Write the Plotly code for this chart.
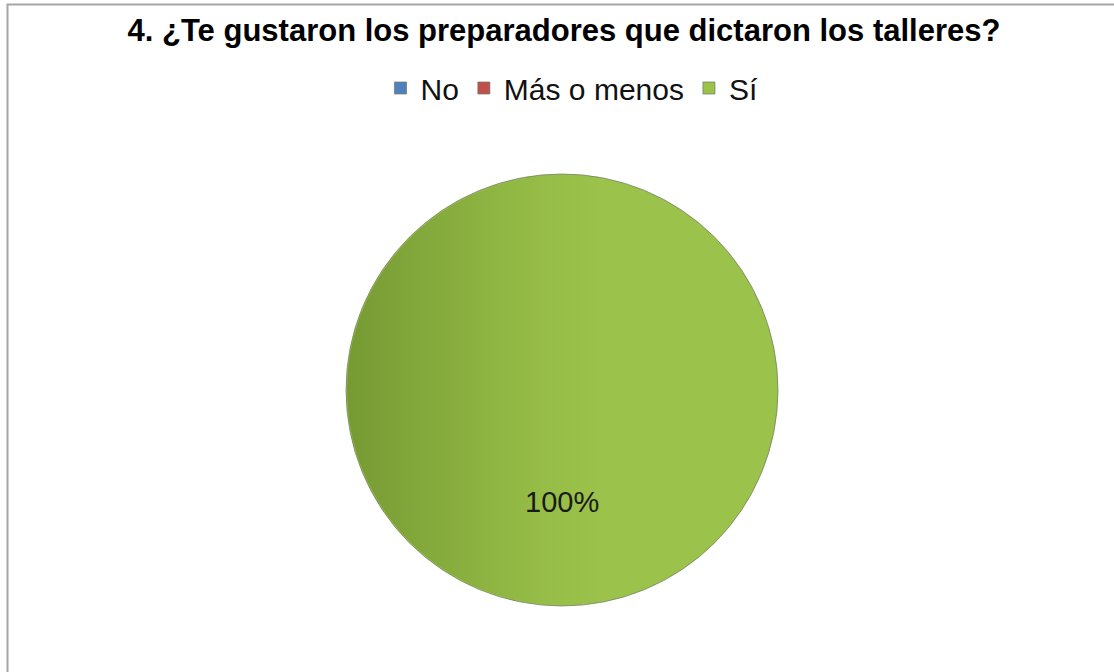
import base64
import plotly.graph_objects as go

# Data
labels = ["No", "Más o menos", "Sí"]
values = [0, 0, 100]
colors = ["#4F81BD", "#C0504D", "#9BC24A"]
title_text = "4. ¿Te gustaron los preparadores que dictaron los talleres?"

W, H = 1114, 672
dom_x = [346 / W, 778 / W]
dom_y = [1 - 606 / H, 1 - 174 / H]

fig = go.Figure()
fig.add_trace(go.Pie(
    labels=labels,
    values=values,
    marker=dict(colors=colors, line=dict(color="rgba(110,120,100,0.7)", width=1)),
    textinfo="none",
    sort=False,
    direction="clockwise",
    domain=dict(x=dom_x, y=dom_y),
    hoverinfo="label+percent",
))

# percentage label for the (only) non-zero slice, from the data
total = sum(values)
for lab, v in zip(labels, values):
    if v > 0:
        pct = f"{round(100 * v / total)}%"
        fig.add_annotation(
            text=pct, x=(dom_x[0] + dom_x[1]) / 2, y=1 - 502 / H,
            xref="paper", yref="paper", showarrow=False, yanchor="middle",
            font=dict(family="Liberation Sans, Arial", size=29, color="#1a1a1a"),
        )

# subtle horizontal shading like the original
svg = ("<svg xmlns='http://www.w3.org/2000/svg' width='200' height='200' viewBox='0 0 200 200'>"
       "<defs><linearGradient id='g' x1='0' x2='1' y1='0' y2='0'>"
       "<stop offset='0' stop-color='#4a6a18' stop-opacity='0.45'/>"
       "<stop offset='0.45' stop-color='#4a6a18' stop-opacity='0.06'/>"
       "<stop offset='0.6' stop-color='#4a6a18' stop-opacity='0'/>"
       "</linearGradient></defs>"
       "<circle cx='100' cy='100' r='99.5' fill='url(#g)'/></svg>")
src = "data:image/svg+xml;base64," + base64.b64encode(svg.encode()).decode()
fig.add_layout_image(dict(
    source=src, xref="paper", yref="paper",
    x=dom_x[0], y=dom_y[1], sizex=dom_x[1] - dom_x[0], sizey=dom_y[1] - dom_y[0],
    xanchor="left", yanchor="top", sizing="stretch", layer="above",
))

# chart frame
fig.add_shape(type="rect", xref="paper", yref="paper",
              x0=7.5 / W, x1=1.02, y0=-0.02, y1=1 - 4.5 / H,
              line=dict(color="#a6a6a6", width=2), fillcolor="rgba(0,0,0,0)")

fig.update_layout(
    width=W, height=H,
    margin=dict(l=0, r=0, t=0, b=0),
    paper_bgcolor="white",
    plot_bgcolor="white",
    title=dict(text=f"<b>{title_text}</b>", x=564 / W, xanchor="center",
               y=1 - 30 / H, yanchor="middle",
               font=dict(family="Liberation Sans, Arial", size=31, color="#000000")),
    legend=dict(orientation="h", x=572 / W, xanchor="center", y=1 - 88 / H, yanchor="middle",
                font=dict(family="Liberation Sans, Arial", size=30, color="#111111"),
                itemwidth=30, traceorder="normal", bgcolor="rgba(0,0,0,0)"),
    showlegend=True,
)

fig.write_html("out.html", config={"displayModeBar": False},
               post_script="document.body.style.margin='0';document.body.style.overflow='hidden';")
